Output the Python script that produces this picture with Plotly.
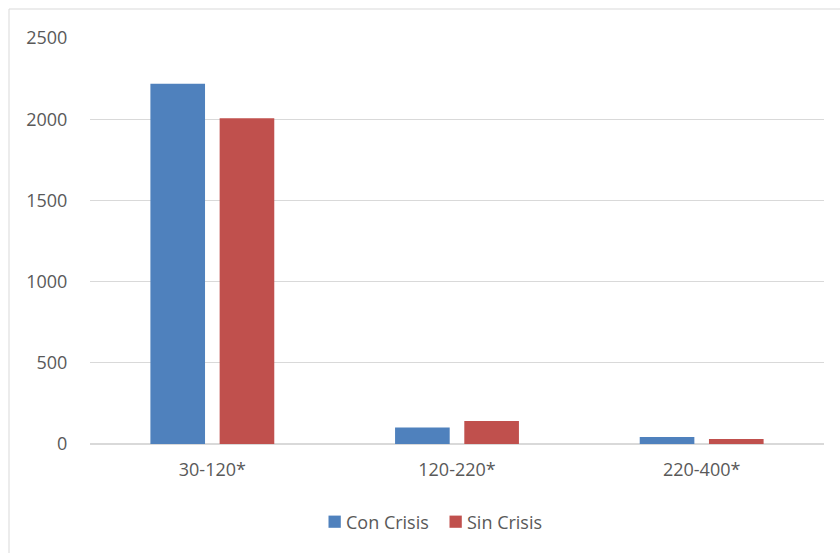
import plotly.graph_objects as go

# Rangos y valores por serie
categorias = ["30-120*", "120-220*", "220-400*"]
con_crisis = [2218, 102, 43]
sin_crisis = [2006, 142, 31]
series_nombres = ["Con Crisis", "Sin Crisis"]
y_ticks = [0, 500, 1000, 1500, 2000, 2500]

AZUL = "#4F81BD"
ROJO = "#C0504D"
GRIS_TXT = "#595959"
GRIS_LINEA = "#D9D9D9"
FUENTE = "Open Sans"
TAM = 18

W, H = 840, 553
ML, MR, MT, MB = 90, 16, 38, 109
PW, PH = W - ML - MR, H - MT - MB


def px_x(px):
    return (px - ML) / PW


def px_y(py):
    return (H - MB - py) / PH


fig = go.Figure()
fig.add_trace(go.Bar(x=categorias, y=con_crisis, name=series_nombres[0],
                     marker=dict(color=AZUL, line=dict(width=0))))
fig.add_trace(go.Bar(x=categorias, y=sin_crisis, name=series_nombres[1],
                     marker=dict(color=ROJO, line=dict(width=0))))

# Marco exterior del gráfico
shapes = [dict(type="rect", xref="paper", yref="paper",
               x0=px_x(9), x1=px_x(W + 20), y0=px_y(H + 20), y1=px_y(9),
               line=dict(color=GRIS_LINEA, width=1), fillcolor="rgba(0,0,0,0)",
               layer="below")]

# Leyenda dibujada a mano: cuadro de color + texto
annotations = []
leyenda_y = px_y(522)
for nombre, color, x_cuadro in [(series_nombres[0], AZUL, 328.5), (series_nombres[1], ROJO, 449.5)]:
    shapes.append(dict(type="rect", xref="paper", yref="paper",
                       x0=px_x(x_cuadro), x1=px_x(x_cuadro + 12.3),
                       y0=px_y(527.8), y1=px_y(515.6),
                       fillcolor=color, line=dict(width=0)))
    annotations.append(dict(text=nombre, xref="paper", yref="paper",
                            x=px_x(x_cuadro + 16.5), y=leyenda_y,
                            xanchor="left", yanchor="middle", showarrow=False,
                            borderpad=0,
                            font=dict(family=FUENTE, size=TAM, color=GRIS_TXT)))

fig.update_layout(
    width=W, height=H,
    margin=dict(l=ML, r=MR, t=MT, b=MB, pad=0),
    paper_bgcolor="white", plot_bgcolor="white",
    barmode="group", bargap=0.434, bargroupgap=0.211,
    showlegend=False,
    font=dict(family=FUENTE, size=TAM, color=GRIS_TXT),
    shapes=shapes, annotations=annotations,
    xaxis=dict(showgrid=False, showline=False, zeroline=False,
               ticks="outside", ticklen=0, tickcolor="white",
               ticklabelstandoff=9,
               tickfont=dict(family=FUENTE, size=TAM, color=GRIS_TXT)),
    yaxis=dict(range=[0, 2500], tickvals=y_ticks, showgrid=True,
               gridcolor=GRIS_LINEA, gridwidth=1,
               zeroline=True, zerolinecolor=GRIS_LINEA, zerolinewidth=2,
               showline=False, ticks="outside", ticklen=0, tickcolor="white",
               ticklabelstandoff=18,
               tickfont=dict(family=FUENTE, size=TAM, color=GRIS_TXT)),
)

fig.write_html("out.html")
